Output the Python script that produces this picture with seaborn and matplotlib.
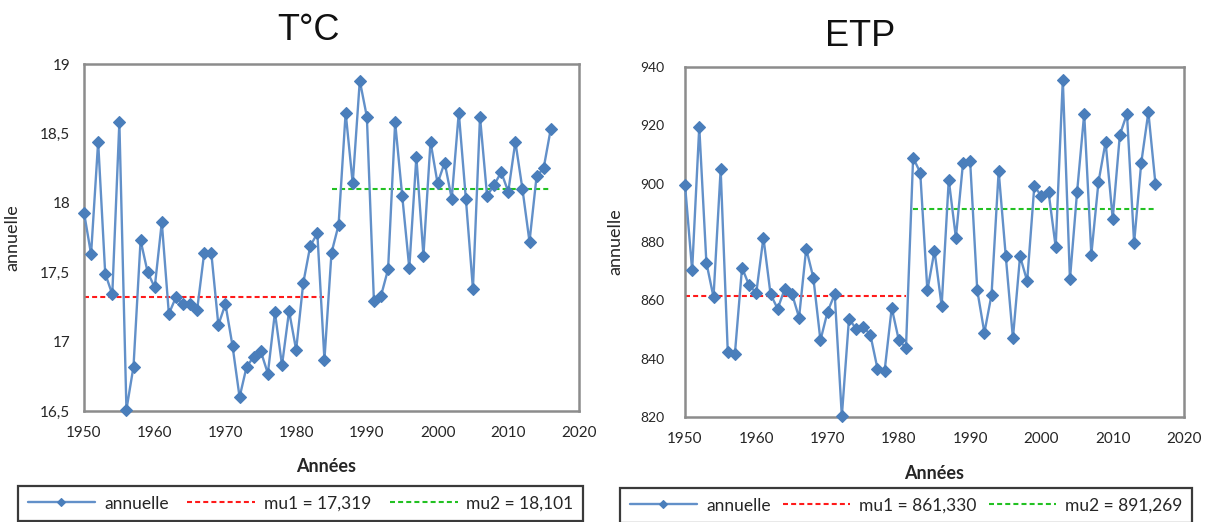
import matplotlib
matplotlib.use("Agg")
import matplotlib.pyplot as plt
import pandas as pd
import seaborn as sns
from matplotlib.ticker import FuncFormatter, MultipleLocator

# ---------------------------------------------------------------- data
years = list(range(1950, 2017))

temp_annual = [
    17.93, 17.63, 18.44, 17.49, 17.34, 18.58, 16.51, 16.82, 17.73, 17.50,
    17.39, 17.86, 17.20, 17.32, 17.27, 17.27, 17.23, 17.64, 17.64, 17.12,
    17.27, 16.97, 16.60, 16.82, 16.89, 16.93, 16.77, 17.21, 16.83, 17.22,
    16.94, 17.42, 17.69, 17.78, 16.87, 17.64, 17.84, 18.65, 18.14, 18.88,
    18.62, 17.29, 17.33, 17.52, 18.58, 18.05, 17.53, 18.33, 17.62, 18.44,
    18.14, 18.29, 18.03, 18.65, 18.03, 17.38, 18.62, 18.05, 18.13, 18.22,
    18.08, 18.44, 18.10, 17.72, 18.19, 18.25, 18.53,
]

etp_annual = [
    899.7, 870.3, 919.4, 872.9, 861.1, 904.9, 842.3, 841.7, 871.2, 865.1,
    862.6, 881.5, 862.1, 857.1, 864.0, 862.3, 854.1, 877.7, 867.8, 846.3,
    856.1, 862.1, 820.3, 853.6, 850.3, 850.9, 848.2, 836.6, 835.8, 857.4,
    846.3, 843.7, 908.9, 903.8, 863.4, 877.0, 858.1, 901.3, 881.5, 907.1,
    907.7, 863.4, 848.9, 861.9, 904.3, 875.1, 847.0, 875.1, 866.6, 899.1,
    895.8, 897.1, 878.3, 935.7, 867.2, 897.1, 924.0, 875.7, 900.5, 914.3,
    888.0, 916.7, 924.0, 879.7, 907.1, 924.5, 899.8,
]

# segment means (value, first year, last year)
temp_mu = [17.319, 18.101]
temp_mu_years = [(1950, 1984), (1985, 2016)]
etp_mu = [861.330, 891.269]
etp_mu_years = [(1950, 1981), (1982, 2016)]

# ---------------------------------------------------------------- style
sns.set_style("white")
plt.rcParams["font.family"] = ["Lato", "DejaVu Sans"]

LINE_COLOR = "#6290c9"
MARK_COLOR = "#4a7ebb"
MU_COLORS = ["#ff1a1a", "#22c122"]
SPINE_COLOR = "#8c8c8c"
TEXT_COLOR = "#262626"

W, H = 1212, 522
fig = plt.figure(figsize=(W / 100, H / 100), dpi=100)


def fig_rect(x0, x1, top, bottom):
    return [x0 / W, 1 - bottom / H, (x1 - x0) / W, (bottom - top) / H]


def comma(v, _pos=None):
    return f"{v:g}".replace(".", ",")


def fmt_mu(v):
    return f"{v:.3f}".replace(".", ",")


def draw_panel(ax, values, mus, mu_years, ylim, ystep, ytick_size, ytick_pad,
               legend_box):
    df = pd.DataFrame({"year": years, "value": values})
    sns.lineplot(data=df, x="year", y="value", ax=ax, color=LINE_COLOR,
                 linewidth=1.7, marker="D", markersize=6.3,
                 markerfacecolor=MARK_COLOR, markeredgecolor=MARK_COLOR,
                 markeredgewidth=0.8, label="annuelle", clip_on=False,
                 zorder=3)
    for i, (mu, (y0, y1), col) in enumerate(zip(mus, mu_years, MU_COLORS)):
        seg = pd.DataFrame({"year": [y0, y1], "value": [mu, mu]})
        sns.lineplot(data=seg, x="year", y="value", ax=ax, color=col,
                     linewidth=1.5, linestyle=(0, (2.4, 1.5)),
                     label=f"mu{i + 1} = {fmt_mu(mu)}", zorder=2)

    ax.set_xlim(1950, 2020)
    ax.set_ylim(*ylim)
    ax.xaxis.set_major_locator(MultipleLocator(10))
    ax.yaxis.set_major_locator(MultipleLocator(ystep))
    ax.yaxis.set_major_formatter(FuncFormatter(comma))

    for sp in ax.spines.values():
        sp.set_color(SPINE_COLOR)
        sp.set_linewidth(1.8)
    ax.tick_params(axis="both", direction="inout", length=7, width=1.3,
                   color=SPINE_COLOR, labelcolor=TEXT_COLOR)
    ax.tick_params(axis="x", labelsize=11, pad=7)
    ax.tick_params(axis="y", direction="out", length=6,
                   labelsize=ytick_size, pad=ytick_pad)
    ax.grid(False)

    ax.set_xlabel("Années", fontsize=13, fontweight="bold", color=TEXT_COLOR)
    ax.set_ylabel("annuelle", fontsize=13, color=TEXT_COLOR)

    handles, labels = ax.get_legend_handles_labels()
    leg = ax.legend(handles, labels, loc="upper left",
                    bbox_to_anchor=legend_box, bbox_transform=fig.transFigure,
                    mode="expand", ncol=3, fontsize=12.5, handlelength=3.9,
                    handletextpad=0.5, borderaxespad=0, borderpad=0.55,
                    frameon=True, fancybox=False, framealpha=1,
                    edgecolor="#3a3a3a", markerscale=0.7)
    leg.get_frame().set_linewidth(1.6)
    for t in leg.get_texts():
        t.set_color(TEXT_COLOR)


# left panel: temperature
ax1 = fig.add_axes(fig_rect(84, 579, 64, 411))
draw_panel(ax1, temp_annual, temp_mu, temp_mu_years, (16.5, 19), 0.5, 11, 4,
           (18 / W, 1 - 486 / H, (583 - 18) / W, 0))
ax1.yaxis.set_label_coords(-0.129, 0.5)
ax1.xaxis.set_label_coords(0.49, -0.135)

# right panel: evapotranspiration
ax2 = fig.add_axes(fig_rect(685, 1184, 67, 417))
draw_panel(ax2, etp_annual, etp_mu, etp_mu_years, (820, 940), 20, 10, 9,
           (620 / W, 1 - 488 / H, (1192 - 620) / W, 0))
ax2.yaxis.set_label_coords(-0.124, 0.5)
ax2.xaxis.set_label_coords(0.5, -0.137)

fig.text(308 / W, 1 - 30 / H, "T°C", ha="center", va="center", fontsize=26,
         family="Liberation Sans", color="#111111")
fig.text(860 / W, 1 - 36 / H, "ETP", ha="center", va="center", fontsize=26,
         family="Liberation Sans", color="#111111")

fig.savefig("out.png", dpi=100, facecolor="white")
